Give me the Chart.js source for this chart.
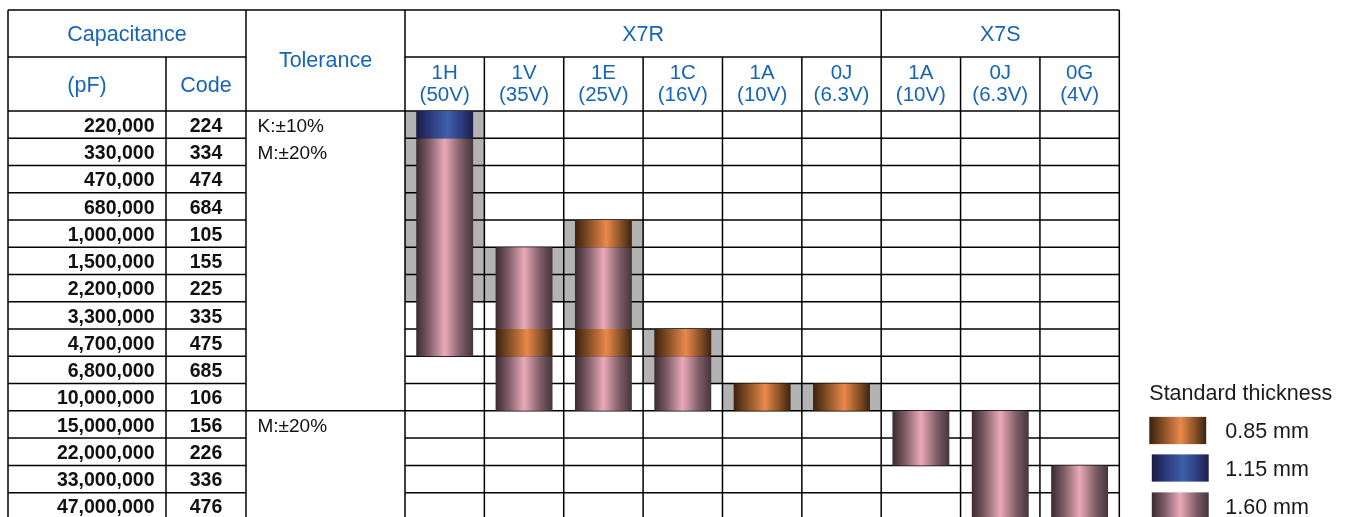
<!DOCTYPE html>
<html>
<head>
<meta charset="utf-8">
<script src="https://cdn.jsdelivr.net/npm/chart.js@4.4.0/dist/chart.umd.min.js"></script>
<style>
  html, body { margin: 0; padding: 0; background: #ffffff; overflow: hidden; }
  #wrap { position: relative; width: 1359px; height: 540px; }
</style>
</head>
<body>
<div id="wrap"><canvas id="chart"></canvas></div>
<script>
// ---------- data ----------
const capacitanceLabels = ['220,000','330,000','470,000','680,000','1,000,000','1,500,000','2,200,000',
  '3,300,000','4,700,000','6,800,000','10,000,000','15,000,000','22,000,000','33,000,000','47,000,000'];
const capacitanceCodes = ['224','334','474','684','105','155','225','335','475','685','106','156','226','336','476'];
const voltageCodes = ['1H','1V','1E','1C','1A','0J','1A','0J','0G'];
const voltageRatings = ['(50V)','(35V)','(25V)','(16V)','(10V)','(6.3V)','(10V)','(6.3V)','(4V)'];
const dielectricGroups = ['X7R','X7S'];
const dielectricGroupSizes = [6, 3];
const toleranceRows = [0, 1, 11];
const toleranceTexts = ['K:\u00b110%', 'M:\u00b120%', 'M:\u00b120%'];
const toleranceBreakRows = [11];

// floating ranges [first row, row after last] per voltage column
const kToleranceRange = [[0,7],[5,7],[4,8],[8,10],[10,11],[10,11],null,null,null];
const thick085A = [null,[8,9],[4,5],[8,9],[10,11],[10,11],null,null,null];
const thick085B = [null,null,[8,9],null,null,null,null,null,null];
const thick115 = [[0,1],null,null,null,null,null,null,null,null];
const thick160A = [[1,9],[5,8],[5,8],[9,11],null,null,[11,13],[11,15],[13,15]];
const thick160B = [null,[9,11],[9,11],null,null,null,null,null,null];

const legendTitle = 'Standard thickness';
const legendLabels = ['0.85 mm', '1.15 mm', '1.60 mm'];
const legendKeys = ['orange', 'blue', 'pink'];

// ---------- styles ----------
const FONT = "'Liberation Sans', Arial, Helvetica, sans-serif";
const BLUE_TEXT = '#1764b8';
const GRAY = '#b3b3b3';
const TEXT_DY = 1.8;
const GRADS = {
  orange: [[0,'#3a220f'],[0.22,'#7e4a22'],[0.55,'#e9894b'],[0.8,'#8a5226'],[1,'#3c2410']],
  blue:   [[0,'#1b1a42'],[0.25,'#2c3a7c'],[0.55,'#3e60a9'],[0.8,'#2d3c80'],[1,'#1d1d48']],
  pink:   [[0,'#3b2a30'],[0.22,'#7c5c66'],[0.5,'#eaaab8'],[0.78,'#7e5e68'],[1,'#45353a']]
};
const TABLE = { left: 8, top: 10, mid: 57, col1: 166, col2: 246 };

function makeGradient(ctx, x0, x1, key) {
  const g = ctx.createLinearGradient(x0, 0, x1, 0);
  GRADS[key].forEach(([o, c]) => g.addColorStop(o, c));
  return g;
}

const CYL_PCT = 0.717;
function cylinderFill(key) {
  return (c) => {
    const chart = c.chart;
    const xs = chart.scales && chart.scales.x;
    if (!chart.chartArea || !xs || c.dataIndex === undefined) return GRADS[key][2][1];
    const step = xs.getPixelForValue(1) - xs.getPixelForValue(0);
    const cx = xs.getPixelForValue(c.dataIndex);
    const w = step * CYL_PCT;
    return makeGradient(chart.ctx, cx - w / 2, cx + w / 2, key);
  };
}

function cylinderDataset(label, data, key) {
  return {
    label, data, grouped: false, order: 1,
    barPercentage: CYL_PCT, categoryPercentage: 1,
    backgroundColor: cylinderFill(key), borderWidth: 0, borderSkipped: false
  };
}

// ---------- table plugin ----------
function line(ctx, x1, y1, x2, y2) {
  ctx.beginPath(); ctx.moveTo(x1, y1); ctx.lineTo(x2, y2); ctx.stroke();
}

const tablePlugin = {
  id: 'specTable',
  afterDatasetDraw(chart, args) {
    if (args.index !== 0) return;
    const { ctx, chartArea: ca, scales: { x, y } } = chart;
    const T = TABLE;
    ctx.save();
    ctx.strokeStyle = '#000';
    ctx.lineWidth = 1.5;
    const bottom = ca.bottom;
    line(ctx, T.left, T.top, ca.right, T.top);
    line(ctx, T.left, T.mid, T.col2, T.mid);
    line(ctx, ca.left, T.mid, ca.right, T.mid);
    line(ctx, T.left, ca.top, ca.right, ca.top);
    line(ctx, T.left, T.top, T.left, bottom);
    line(ctx, T.col1, T.mid, T.col1, bottom);
    line(ctx, T.col2, T.top, T.col2, bottom);
    const step = x.getPixelForValue(1) - x.getPixelForValue(0);
    const groupEdges = [0];
    dielectricGroupSizes.reduce((a, s) => { groupEdges.push(a + s); return a + s; }, 0);
    for (let i = 0; i <= voltageCodes.length; i++) {
      const px = x.getPixelForValue(i) - step / 2;
      line(ctx, px, groupEdges.includes(i) ? T.top : T.mid, px, bottom);
    }
    for (let r = 1; r <= capacitanceLabels.length; r++) {
      const py = y.getPixelForValue(r);
      line(ctx, T.left, py, T.col2, py);
      line(ctx, ca.left, py, ca.right, py);
      if (toleranceBreakRows.includes(r)) line(ctx, T.col2, py, ca.left, py);
    }
    ctx.restore();
  },
  afterDraw(chart) {
    const { ctx, chartArea: ca, scales: { x, y } } = chart;
    const T = TABLE;
    ctx.save();
    ctx.textBaseline = 'middle';
    // header
    ctx.fillStyle = BLUE_TEXT;
    ctx.textAlign = 'center';
    ctx.font = '21.5px ' + FONT;
    ctx.fillText('Capacitance', (T.left + T.col2) / 2, (T.top + T.mid) / 2 + TEXT_DY);
    ctx.fillText('(pF)', (T.left + T.col1) / 2, (T.mid + ca.top) / 2 + TEXT_DY);
    ctx.fillText('Code', (T.col1 + T.col2) / 2, (T.mid + ca.top) / 2 + TEXT_DY);
    ctx.fillText('Tolerance', (T.col2 + ca.left) / 2, (T.top + ca.top) / 2 - 1 + TEXT_DY);
    const step = x.getPixelForValue(1) - x.getPixelForValue(0);
    let start = 0;
    dielectricGroups.forEach((g, gi) => {
      const end = start + dielectricGroupSizes[gi];
      const cx = (x.getPixelForValue(start) + x.getPixelForValue(end - 1)) / 2;
      ctx.fillText(g, cx, (T.top + T.mid) / 2 + TEXT_DY);
      start = end;
    });
    // code column
    ctx.fillStyle = '#111';
    ctx.font = 'bold 19.5px ' + FONT;
    capacitanceCodes.forEach((c, r) => {
      ctx.fillText(c, (T.col1 + T.col2) / 2, y.getPixelForValue(r + 0.5) + TEXT_DY);
    });
    // tolerance notes
    ctx.textAlign = 'left';
    ctx.font = '19px ' + FONT;
    toleranceRows.forEach((r, i) => {
      ctx.fillText(toleranceTexts[i], T.col2 + 11.5, y.getPixelForValue(r + 0.5) + TEXT_DY);
    });
    // legend
    const lx = ca.right + 30, ly = 392.5;
    ctx.fillStyle = '#1a1a1a';
    ctx.font = '21.5px ' + FONT;
    ctx.fillText(legendTitle, lx, ly + TEXT_DY);
    const sw = step * CYL_PCT, sh = y.getPixelForValue(1) - y.getPixelForValue(0);
    const rowsY = [430.5, 468, 506];
    const offs = [0, 2.5, 2.5];
    legendKeys.forEach((k, i) => {
      const sx = lx + offs[i];
      ctx.fillStyle = makeGradient(ctx, sx, sx + sw, k);
      ctx.fillRect(sx, rowsY[i] - sh / 2, sw, sh);
      ctx.fillStyle = '#1a1a1a';
      ctx.fillText(legendLabels[i], lx + 76, rowsY[i] + TEXT_DY);
    });
    ctx.restore();
  }
};

// ---------- chart ----------
new Chart(document.getElementById('chart'), {
  type: 'bar',
  data: {
    labels: voltageCodes.map((c, i) => [c, voltageRatings[i]]),
    datasets: [
      { label: 'K tolerance', data: kToleranceRange, grouped: false, order: 2,
        barPercentage: 1, categoryPercentage: 1, backgroundColor: GRAY, borderWidth: 0 },
      cylinderDataset('0.85 mm', thick085A, 'orange'),
      cylinderDataset('0.85 mm ', thick085B, 'orange'),
      cylinderDataset('1.15 mm', thick115, 'blue'),
      cylinderDataset('1.60 mm', thick160A, 'pink'),
      cylinderDataset('1.60 mm ', thick160B, 'pink')
    ]
  },
  options: {
    responsive: true,
    maintainAspectRatio: false,
    animation: false,
    events: [],
    layout: { padding: { left: 8, top: 57, right: 239.7, bottom: 20.1 } },
    plugins: { legend: { display: false }, tooltip: { enabled: false } },
    scales: {
      x: {
        position: 'top',
        grid: { display: false, drawTicks: false },
        border: { display: false },
        ticks: {
          color: BLUE_TEXT, font: { family: FONT, size: 20.5, lineHeight: '22px' },
          padding: 4.2, maxRotation: 0, autoSkip: false
        },
        afterFit(s) { s.height = 54; s.paddingLeft = 0; s.paddingRight = 0; }
      },
      y: {
        type: 'linear', reverse: true, min: 0, max: capacitanceLabels.length,
        grid: { display: false, drawTicks: false },
        border: { display: false },
        afterBuildTicks(s) { s.ticks = capacitanceLabels.map((_, i) => ({ value: i + 0.565 })); },
        ticks: {
          color: '#111', font: { family: FONT, size: 19.5, weight: 'bold' },
          padding: 250.5, autoSkip: false,
          callback: (v, i) => capacitanceLabels[i]
        },
        afterFit(s) { s.width = 397; s.paddingTop = 0; s.paddingBottom = 0; }
      }
    }
  },
  plugins: [tablePlugin]
});
</script>
</body>
</html>
